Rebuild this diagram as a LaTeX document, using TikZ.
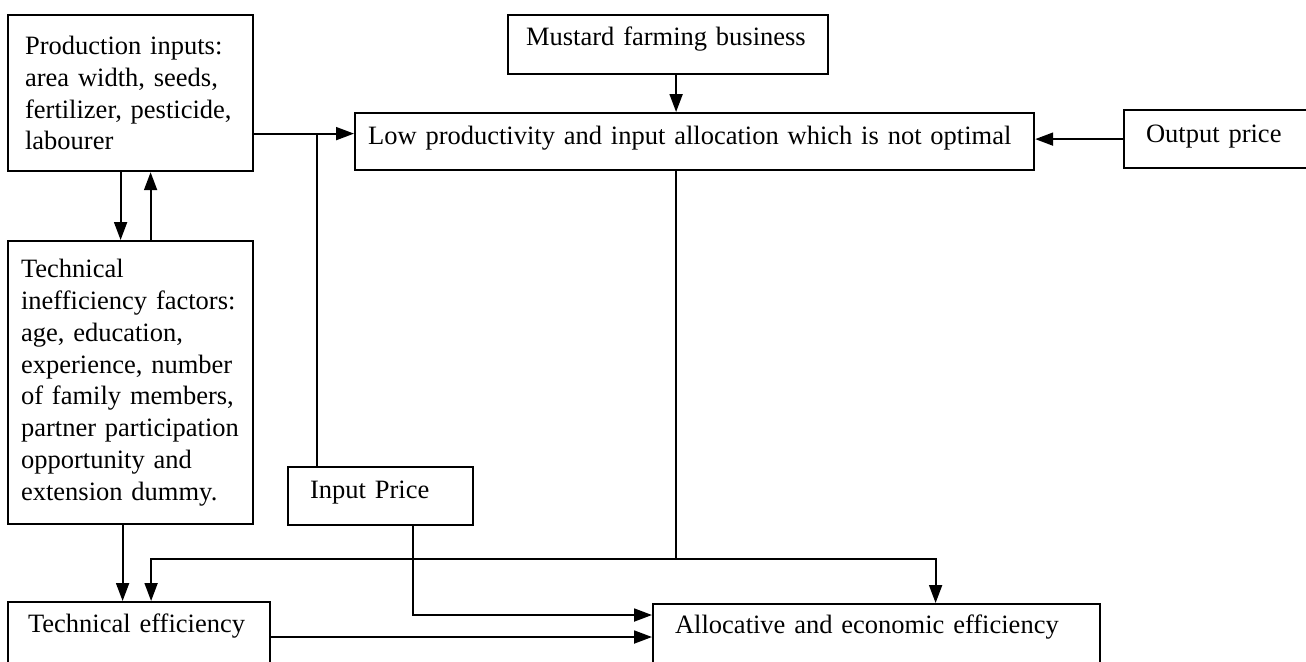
\documentclass[tikz,border=0pt]{standalone}
\usepackage{fontspec}
\setmainfont{Liberation Serif}
\usetikzlibrary{arrows.meta}

\begin{document}
\begin{tikzpicture}[x=0.5pt,y=-0.5pt,
    every node/.style={font=\fontsize{13.25}{15.9}\selectfont},
    box/.style={draw,line width=1.1pt,anchor=north west,align=left,inner ysep=0pt},
    arr/.style={line width=0.95pt,-{Triangle[length=9pt,width=6.5pt]}},
    conn/.style={line width=0.95pt}]
  \useasboundingbox (0,0) rectangle (1306,661);
  %%% the boxes
  % left column
  \node[box,text width=105.5pt,inner xsep=8.5pt,minimum height=78pt] (prod) at (7,14)
    {Production inputs:\\area width, seeds,\\fertilizer, pesticide,\\labourer};
  \node[box,text width=109.5pt,inner xsep=6.5pt,minimum height=141.5pt] (ineff) at (7,240)
    {Technical\\inefficiency factors:\\age, education,\\experience, number\\of family members,\\partner participation\\opportunity and\\extension dummy.};
  \node[box,text width=111pt,inner xsep=10pt,text height=15pt,text depth=40pt] (techeff) at (7,601)
    {Technical efficiency};
  % middle and right
  \node[box,text width=142pt,inner xsep=9pt,text height=15pt,text depth=14.5pt] (mustard) at (507,14)
    {Mustard farming business};
  \node[box,text width=326.5pt,inner xsep=6.5pt,text height=15.5pt,text depth=13pt] (low) at (354,112)
    {Low productivity and input allocation which is not optimal};
  \node[box,text width=83pt,inner xsep=11pt,text height=16pt,text depth=13pt] (out) at (1123,109)
    {Output price};
  \node[box,text width=70.5pt,inner xsep=11pt,text height=15.5pt,text depth=13.5pt] (inprice) at (287,466)
    {Input Price};
  \node[box,text width=201.5pt,inner xsep=11pt,text height=14.5pt,text depth=40pt] (alloc) at (652,603)
    {Allocative and economic efficiency};

  %%% helper points
  \coordinate (pin) at ([yshift=4pt]low.west);
  \coordinate (mid) at ([xshift=4pt]mustard.south);
  \coordinate (ip) at ([xshift=15pt]inprice.north west);
  \coordinate (ipb) at ([xshift=16pt]inprice.south);
  \coordinate (ti) at ([xshift=-4pt]ineff.south);
  \coordinate (te) at ([xshift=6pt]techeff.north);
  \coordinate (ae) at ([xshift=29.5pt]alloc.north);
  \coordinate (bus) at ([yshift=22pt]ae);
  \coordinate (a1) at ([yshift=-6pt]alloc.north west);
  \coordinate (a2) at ([yshift=-17pt]alloc.north west);

  %%% the arrows
  % top part
  \draw[arr] (prod.east |- pin) -- (pin);
  \draw[conn] (ip) -- (ip |- pin);
  \draw[arr] (mid) -- (mid |- low.north);
  \draw[arr] (out.west) -- (out.west -| low.east);
  \draw[arr] ([xshift=-5pt]prod.south) -- ([xshift=-5pt]ineff.north);
  \draw[arr] ([xshift=10pt]ineff.north) -- ([xshift=10pt]prod.south);
  % bottom part
  \draw[conn] (mid |- low.south) -- (mid |- bus);
  \draw[arr] (mid |- bus) -| (te);
  \draw[arr] (mid |- bus) -| (ae);
  \draw[arr] (ti) -- (ti |- techeff.north);
  \draw[arr] (ipb) |- (a1);
  \draw[arr] (techeff.east |- a2) -- (a2);
\end{tikzpicture}
\end{document}
